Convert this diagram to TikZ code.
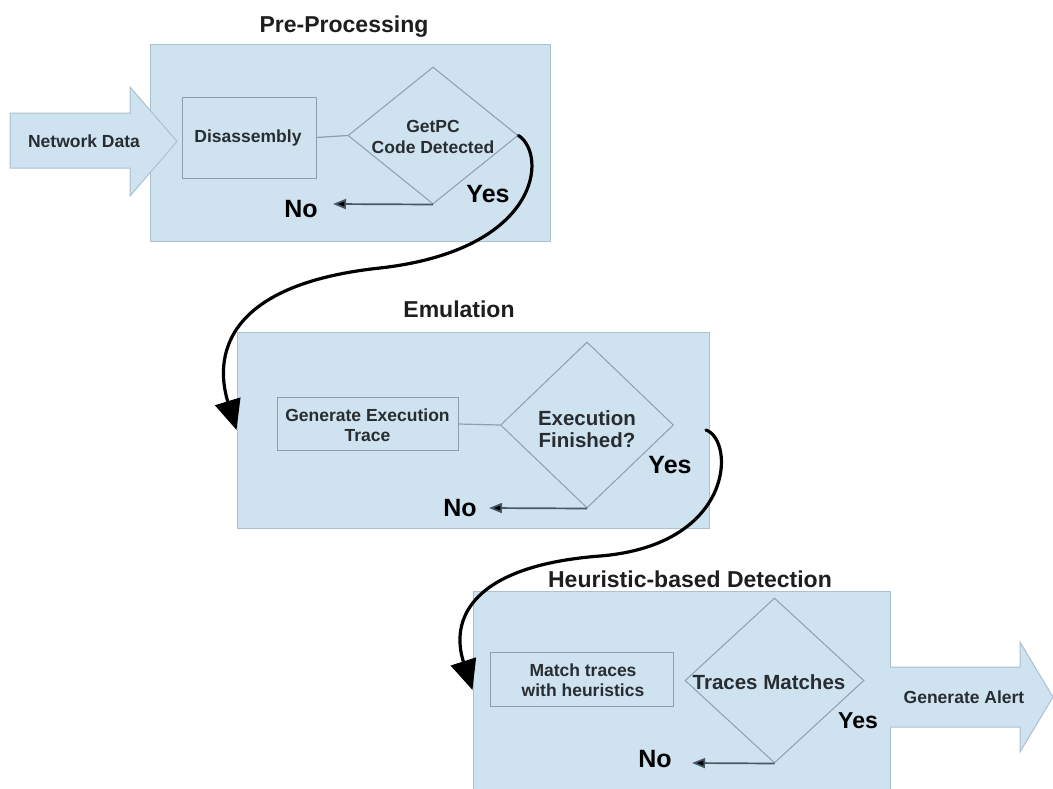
\documentclass[tikz,border=0pt]{standalone}
\usepackage{fontspec}
\setmainfont{Liberation Sans}
\usetikzlibrary{arrows.meta,shapes.geometric}
\definecolor{boxfill}{RGB}{207,226,240}
\definecolor{boxedge}{RGB}{172,192,207}
\definecolor{inneredge}{RGB}{138,160,178}
\definecolor{labelcol}{RGB}{40,45,50}
\definecolor{titlecol}{RGB}{30,30,30}
\definecolor{noline}{RGB}{70,88,100}
\begin{document}
\begin{tikzpicture}[x=1pt,y=-1pt,
  stage/.style={draw=boxedge, fill=boxfill, line width=1pt, inner sep=0pt},
  procbox/.style={draw=inneredge, line width=1pt, inner sep=0pt},
  decide/.style={diamond, draw=inneredge, line width=1pt, inner sep=0pt},
  bigarrow/.style={fill=boxfill, draw=boxedge, line width=1pt, line join=miter},
  title/.style={font=\fontsize{23}{26}\selectfont\bfseries, text=titlecol, anchor=base},
  lbl/.style={font=\fontsize{17.5}{20.5}\selectfont\bfseries, text=labelcol, align=center, inner sep=0pt},
  biglbl/.style={font=\fontsize{20.5}{22}\selectfont\bfseries, text=labelcol, align=center, inner sep=0pt},
  yn/.style={font=\fontsize{25}{28}\selectfont\bfseries, text=black, inner sep=0pt},
  noarrow/.style={draw=noline, line width=1.7pt, -{Triangle[length=13pt,width=10pt,fill=black]}},
  flow/.style={line width=3.2pt, line cap=round, -{Triangle[length=30pt,width=26pt]}},
  linkline/.style={draw=inneredge, line width=1.2pt}
]
\useasboundingbox (0,0) rectangle (1053,788);
\fill[white] (0,0) rectangle (1053,788);

% stage boxes
\node[stage, minimum width=400pt, minimum height=197pt] (pre) at (350,142.5) {};
\node[stage, minimum width=472pt, minimum height=196pt] (emu) at (473,430) {};
\node[stage, minimum width=417pt, minimum height=198pt] (heu) at (681.5,690) {};

% titles
\node[title] (tpre) at (344,32) {Pre-Processing};
\node[title] (temu) at (459,317) {Emulation};
\node[title] (theu) at (690,587) {Heuristic-based Detection};

% input / output arrows
\draw[bigarrow] (10,113) -- (130,113) -- (130,87) -- (177,141.5) -- (130,196) -- (130,168) -- (10,168) -- cycle;
\node[lbl] (netdata) at (84,141.5) {Network Data};
\draw[bigarrow] (890,667) -- (1020,667) -- (1020,642) -- (1053,697) -- (1020,752) -- (1020,727) -- (890,727);
\node[lbl] (alert) at (964,697) {Generate Alert};

% pre-processing
\node[procbox, minimum width=134pt, minimum height=81pt] (dis) at (249,137.5) {};
\node[lbl] (dist) at (248,137.5) {Disassembly};
\node[decide, minimum width=170pt, minimum height=137pt] (d1) at (433,135.5) {};
\node[lbl] (d1t) at (433,137) {GetPC\\Code Detected};
\draw[linkline] (dis.east) -- (d1.west);
\coordinate (no1) at (333,204);
\draw[noarrow] (d1.south) -- (no1);
\node[yn] (no1t) at (301,209) {No};
\node[yn] (yes1t) at (488,194) {Yes};

% emulation
\node[procbox, minimum width=181pt, minimum height=53pt] (gen) at (367.5,424) {};
\node[lbl] (gent) at (367.5,425) {Generate Execution\\Trace};
\node[decide, minimum width=173pt, minimum height=166pt] (d2) at (587,425) {};
\node[biglbl] (d2t) at (587,429) {Execution\\Finished?};
\draw[linkline] (gen.east) -- (d2.west);
\coordinate (no2) at (489,508);
\draw[noarrow] (d2.south) -- (no2);
\node[yn] (no2t) at (460,508) {No};
\node[yn] (yes2t) at (670,465) {Yes};

% heuristic detection
\node[procbox, minimum width=183pt, minimum height=54pt] (match) at (581.5,679) {};
\node[lbl] (matcht) at (583,680) {Match traces\\with heuristics};
\node[decide, minimum width=179pt, minimum height=165pt] (d3) at (774.5,680.5) {};
\node[biglbl] (d3t) at (769,682) {Traces Matches};
\coordinate (no3) at (692,763);
\draw[noarrow] (d3.south) -- (no3);
\node[yn] (no3t) at (655,759) {No};
\node[font=\fontsize{23}{26}\selectfont\bfseries, inner sep=0pt] (yes3t) at (858,721) {Yes};

% flow connectors
\coordinate (c2start) at (706,430);
\draw[flow] (d1.east) .. controls (548,155) and (540,250) .. (380,268)
  .. controls (220,285) and (215,360) .. (emu.west);
\draw[flow] (c2start) .. controls (735,440) and (735,545) .. (600,556)
  .. controls (470,566) and (450,620) .. (heu.west);
\end{tikzpicture}
\end{document}
